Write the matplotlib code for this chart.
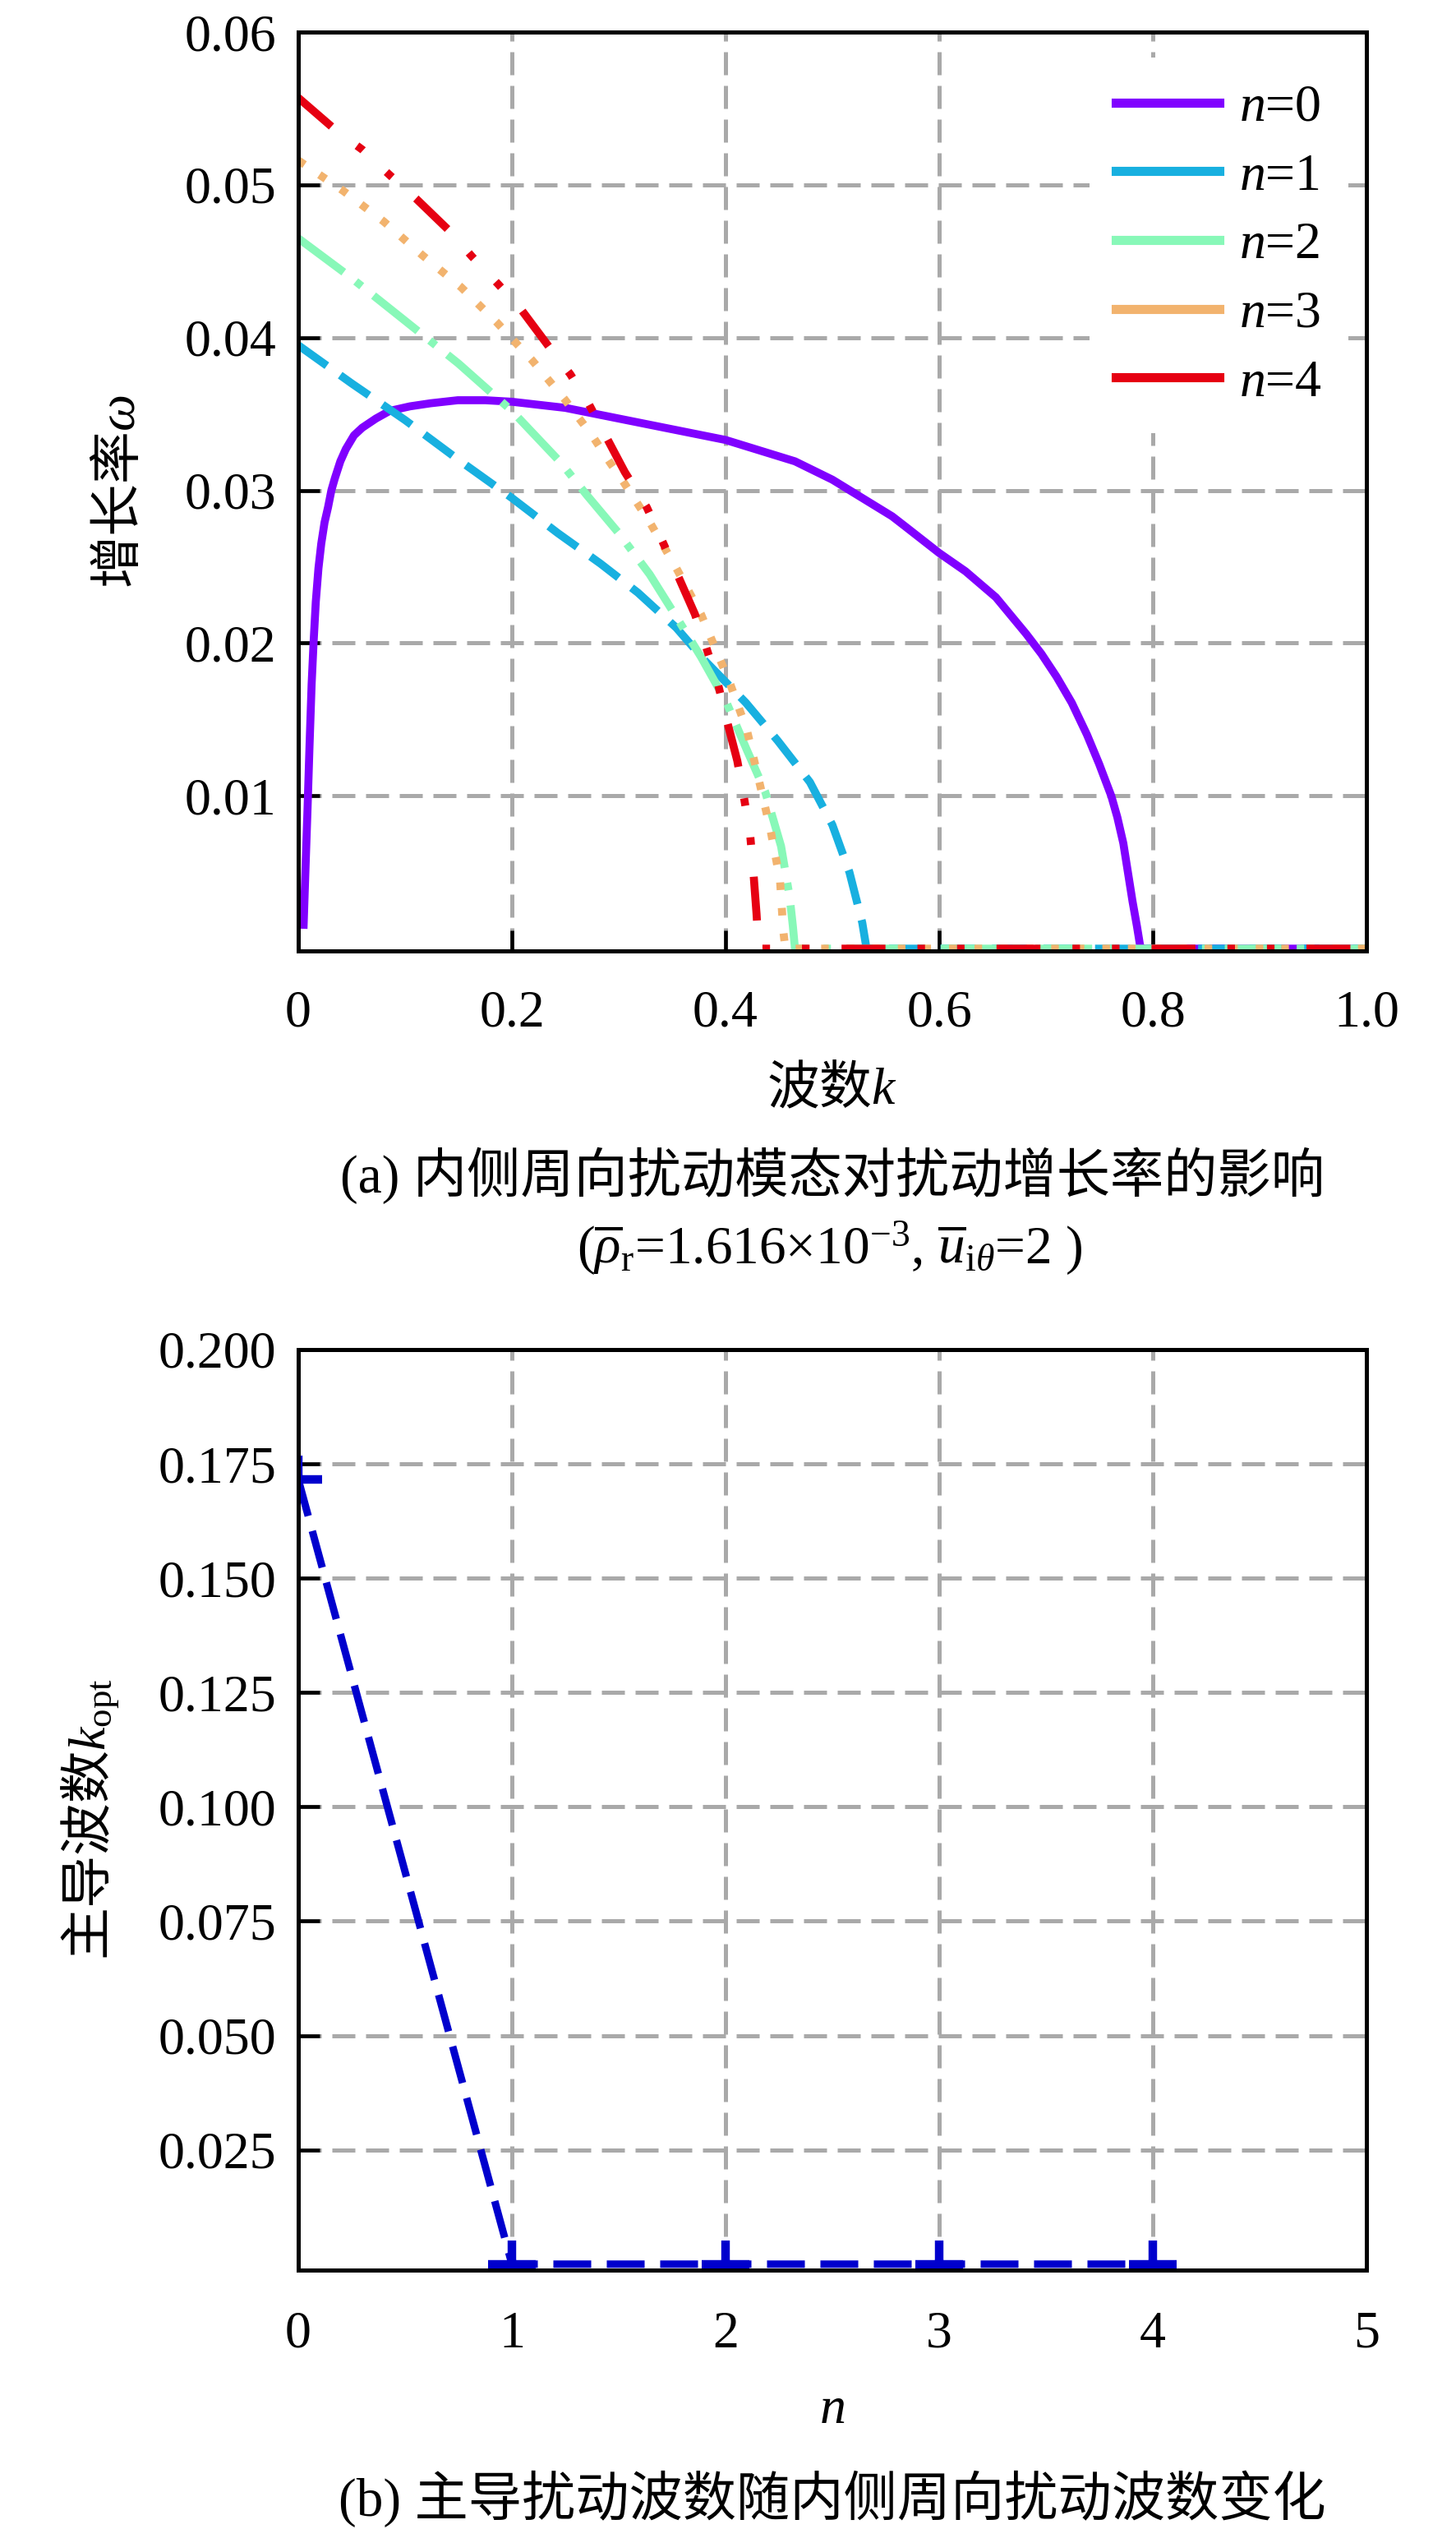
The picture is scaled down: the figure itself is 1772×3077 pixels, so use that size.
import matplotlib
matplotlib.use("Agg")
import matplotlib.pyplot as plt
from matplotlib.lines import Line2D

plt.rcParams['font.family'] = ['Liberation Serif', 'Noto Sans CJK SC']
plt.rcParams['mathtext.fontset'] = 'custom'
plt.rcParams['mathtext.rm'] = 'Liberation Serif'
plt.rcParams['mathtext.it'] = 'Liberation Serif:italic'
plt.rcParams['mathtext.bf'] = 'Liberation Serif:bold'
plt.rcParams['axes.unicode_minus'] = False

# ---------------- data ----------------
# panel (a): growth rate omega vs wavenumber k for n = 0..4
k_n0 = [0.0049, 0.0067, 0.0087, 0.0105, 0.0125, 0.0143, 0.0164, 0.0189, 0.0215, 0.0246, 0.0279,
        0.0310, 0.0343, 0.0394, 0.0445, 0.0522, 0.0599, 0.0727, 0.0855, 0.1046, 0.1238, 0.1494,
        0.175, 0.2, 0.25, 0.3, 0.35, 0.4, 0.465, 0.5, 0.556, 0.568, 0.6, 0.6247, 0.6531, 0.6815,
        0.6957, 0.7099, 0.7241, 0.7384, 0.7497, 0.7611, 0.7668, 0.7724, 0.7767, 0.7810, 0.7852,
        0.7881, 0.789, 1.0]
w_n0 = [0.0013, 0.0051, 0.0092, 0.0132, 0.0173, 0.0200, 0.0227, 0.0249, 0.0265, 0.0279, 0.0289,
        0.0300, 0.0308, 0.0319, 0.0327, 0.0336, 0.0341, 0.0347, 0.0352, 0.0355, 0.0357, 0.0359,
        0.0359, 0.0358, 0.0354, 0.0347, 0.0340, 0.0333, 0.0319, 0.0307, 0.0283, 0.02765, 0.0259,
        0.0247, 0.0230, 0.0206, 0.0193, 0.0178, 0.0161, 0.0140, 0.0121, 0.0100, 0.0086, 0.0069,
        0.0050, 0.0031, 0.00145, 0.0002, 0.0, 0.0]

k_n1 = [0.0, 0.05, 0.1, 0.15, 0.2, 0.243, 0.283, 0.318, 0.354, 0.38, 0.419, 0.449, 0.479, 0.5,
        0.516, 0.528, 0.532, 1.0]
w_n1 = [0.0395, 0.0370, 0.0346, 0.0320, 0.0295, 0.0272, 0.0252, 0.0233, 0.0210, 0.0189, 0.0161,
        0.0136, 0.0109, 0.0081, 0.0050, 0.0017, 0.0, 0.0]

k_n2 = [0.0, 0.048, 0.1, 0.15, 0.2, 0.246, 0.270, 0.300, 0.329, 0.355, 0.377, 0.401, 0.420,
        0.437, 0.452, 0.460, 0.463, 0.465, 1.0]
w_n2 = [0.0465, 0.0440, 0.0411, 0.0383, 0.0352, 0.0318, 0.0297, 0.0272, 0.0245, 0.0216, 0.0191,
        0.0161, 0.0130, 0.0103, 0.0067, 0.0034, 0.0015, 0.0, 0.0]

k_n3 = [0.0, 0.0422, 0.08, 0.116, 0.1524, 0.1858, 0.2191, 0.2489, 0.275, 0.292, 0.304, 0.330,
        0.354, 0.377, 0.386, 0.404, 0.420, 0.431, 0.442, 0.451, 0.454, 0.456, 1.0]
w_n3 = [0.0516, 0.0496, 0.0476, 0.0454, 0.0433, 0.0410, 0.0385, 0.0360, 0.0336, 0.0318, 0.0306,
        0.0278, 0.0249, 0.0219, 0.0204, 0.0174, 0.0143, 0.0111, 0.0078, 0.0045, 0.0012, 0.0, 0.0]

k_n4 = [0.0, 0.0347, 0.06, 0.0862, 0.1102, 0.1413, 0.1627, 0.1871, 0.208, 0.2347, 0.2547,
        0.2724, 0.3057, 0.3262, 0.3413, 0.3549, 0.3713, 0.382, 0.393, 0.401, 0.411, 0.417, 0.423,
        0.426, 0.429, 0.431, 1.0]
w_n4 = [0.0557, 0.0536, 0.0523, 0.0506, 0.0491, 0.0470, 0.0453, 0.0435, 0.0419, 0.0394, 0.0376,
        0.0356, 0.0312, 0.0289, 0.0266, 0.0245, 0.0219, 0.0197, 0.0173, 0.0150, 0.0123, 0.0100,
        0.0075, 0.0051, 0.0023, 0.0, 0.0]

series_labels = ['$n$=0', '$n$=1', '$n$=2', '$n$=3', '$n$=4']

a_xticks = [0, 0.2, 0.4, 0.6, 0.8, 1.0]
a_xticklabels = ['0', '0.2', '0.4', '0.6', '0.8', '1.0']
a_yticks = [0.01, 0.02, 0.03, 0.04, 0.05, 0.06]
a_yticklabels = ['0.01', '0.02', '0.03', '0.04', '0.05', '0.06']

# panel (b): dominant wavenumber vs n
n_vals = [0, 1, 2, 3, 4]
k_opt = [0.1716, 0.0, 0.0, 0.0, 0.0]

b_xticks = [0, 1, 2, 3, 4, 5]
b_xticklabels = ['0', '1', '2', '3', '4', '5']
b_yticks = [0.025, 0.05, 0.075, 0.1, 0.125, 0.15, 0.175, 0.2]
b_yticklabels = ['0.025', '0.050', '0.075', '0.100', '0.125', '0.150', '0.175', '0.200']

# ---------------- styling ----------------
FS = 46
CJK = 'Noto Sans CJK SC'
colors = ['#8000FF', '#18B0E0', '#88F8B8', '#F2B36E', '#E60012']
LW = 7.0
styles = [
    '-',
    (0, (4.4, 2.05)),
    (0, (7.1, 1.9, 0.95, 1.9)),
    (0, (0.95, 2.25)),
    (0, (5.5, 4.0, 0.95, 4.0, 0.95, 4.0)),
]
grid_kw = dict(color='#A9A9A9', linewidth=3.6, linestyle=(0, (5.6, 2.6)))

W, H = 1772, 3077
fig = plt.figure(figsize=(W / 100, H / 100), dpi=100)

L, R = 363, 1663
axA = fig.add_axes([L / W, 1 - 1157 / H, (R - L) / W, (1157 - 39) / H])
axB = fig.add_axes([L / W, 1 - 2762 / H, (R - L) / W, (2762 - 1642) / H])

# ---- panel (a)
ks = [k_n0, k_n1, k_n2, k_n3, k_n4]
ws = [w_n0, w_n1, w_n2, w_n3, w_n4]
for kk, ww, c, ls in zip(ks, ws, colors, styles):
    axA.plot(kk, ww, color=c, lw=LW, linestyle=ls, dash_capstyle='butt',
             solid_capstyle='butt', solid_joinstyle='round')

axA.set_xlim(0, 1.0)
axA.set_ylim(-0.00015, 0.06)
axA.set_xticks(a_xticks)
axA.set_xticklabels(a_xticklabels)
axA.set_yticks(a_yticks)
axA.set_yticklabels(a_yticklabels)
axA.grid(True, **grid_kw)
axA.set_axisbelow(True)
axA.tick_params(axis='x', direction='in', length=18, width=3.3, pad=34, labelsize=FS,
                top=False)
axA.tick_params(axis='y', direction='in', length=19, width=3.3, pad=19, labelsize=FS,
                right=False)
for s in axA.spines.values():
    s.set_linewidth(3.6)

axA.set_xlabel('波数$k$', fontsize=FS, va='center', fontfamily=CJK)
axA.xaxis.set_label_coords(0.5, -0.150)
axA.set_ylabel('增长率$\\omega$', fontsize=FS, va='center', ha='center', fontfamily=CJK)
axA.yaxis.set_label_coords(-0.167, 0.5)

handles = [Line2D([0], [0], color=c, lw=8) for c in colors]
leg = axA.legend(handles, series_labels, loc='upper left', bbox_to_anchor=(0.741, 0.972),
                 fontsize=FS, frameon=True, fancybox=False, framealpha=1.0,
                 facecolor='white', edgecolor='none', borderpad=0.5, borderaxespad=0,
                 handlelength=1.97, handletextpad=0.38, labelspacing=0.39)

# ---- panel (b)
axB.plot(n_vals, k_opt, color='#0000CD', lw=6.5, linestyle=(0, (5.1, 2.1)),
         marker='+', markersize=42, markeredgewidth=7.5, dash_capstyle='butt')
axB.set_xlim(0, 5)
axB.set_ylim(-0.0013, 0.2)
axB.set_xticks(b_xticks)
axB.set_xticklabels(b_xticklabels)
axB.set_yticks(b_yticks)
axB.set_yticklabels(b_yticklabels)
axB.grid(True, **grid_kw)
axB.set_axisbelow(True)
axB.tick_params(axis='x', direction='in', length=11, width=2.5, pad=36, labelsize=FS,
                top=False)
axB.tick_params(axis='y', direction='in', length=19, width=3.3, pad=19, labelsize=FS,
                right=False)
for s in axB.spines.values():
    s.set_linewidth(3.6)

axB.set_xlabel('$n$', fontsize=FS, va='center')
axB.xaxis.set_label_coords(0.5, -0.153)
axB.set_ylabel('主导波数$k_{\\mathrm{opt}}$', fontsize=FS, va='center', ha='center',
               fontfamily=CJK)
axB.yaxis.set_label_coords(-0.195, 0.49)

# ---- captions
CFS = 47
fig.text(1013 / W, 1 - 1430 / H, '(a) 内侧周向扰动模态对扰动增长率的影响', fontsize=CFS,
         ha='center', va='center')
fig.text(1010 / W, 1 - 1519 / H,
         '($\\overline{\\rho}_{\\mathrm{r}}$=1.616×10$^{-3}$, $\\overline{u}_{\\mathrm{i}\\theta}$=2 )',
         fontsize=CFS, ha='center', va='center')
fig.text(1013 / W, 1 - 3040 / H, '(b) 主导扰动波数随内侧周向扰动波数变化', fontsize=CFS,
         ha='center', va='center')

fig.savefig('out.png', dpi=100)
